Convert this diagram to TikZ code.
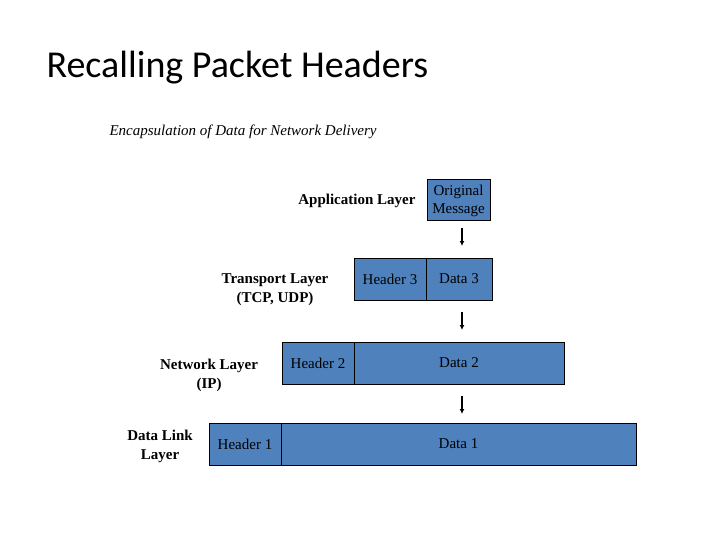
\documentclass[tikz,border=0pt]{standalone}
\usepackage{fontspec}
\setmainfont{Liberation Serif}
\newfontfamily\titlefont{Carlito}
\usetikzlibrary{arrows.meta, positioning}
\definecolor{pktblue}{RGB}{79, 129, 189}

\tikzset{
  cell/.style={draw=black, fill=pktblue, line width=1pt, inner sep=0pt, font=\fontsize{15}{17}\selectfont},
  layer/.style={align=center, font=\bfseries\fontsize{15}{19}\selectfont},
  down/.style={-{Latex[length=5pt,width=5pt]}, line width=1.2pt}
}

\begin{document}
\begin{tikzpicture}[x=1pt,y=-1pt]
        \useasboundingbox (0,0) rectangle (720,540);
        \node[anchor=west, font=\titlefont\fontsize{38}{40}\selectfont] (title) at (43,68) {Recalling Packet Headers};
        \node[anchor=west, font=\itshape\fontsize{15}{17}\selectfont] (sub) at (106,132) {Encapsulation of Data for Network Delivery};

        % application layer
        \node[cell, minimum width=63pt, minimum height=41pt, align=center, font=\fontsize{15}{18}\selectfont] (orig) at (458.5,200.5) {Original\\Message};
        \node[layer, anchor=east] (app) at (419,201) {Application Layer};

        % transport layer
        \node[cell, minimum width=72pt, minimum height=42pt] (h3) at (390,279) {Header 3};
        \node[cell, minimum width=66pt, minimum height=42pt] (d3) at (459,279) {Data 3};
        \node[layer] (tr) at (275,290) {Transport Layer\\(TCP, UDP)};

        % network layer
        \node[cell, minimum width=72pt, minimum height=42pt] (h2) at (318,363) {Header 2};
        \node[cell, minimum width=210pt, minimum height=42pt] (d2) at (459,363) {Data 2};
        \node[layer] (net) at (209,375) {Network Layer\\(IP)};

        % data link layer
        \node[cell, minimum width=72pt, minimum height=42pt] (h1) at (245,444) {Header 1};
        \node[cell, minimum width=355pt, minimum height=42pt] (d1) at (458.5,444) {Data 1};
        \node[layer] (dl) at (160,446) {Data Link\\Layer};

        \coordinate (a1) at (462,228);
        \coordinate (b1) at (462,246);
        \coordinate (a2) at (462,312);
        \coordinate (b2) at (462,330);
        \coordinate (a3) at (462,396);
        \coordinate (b3) at (462,414);
        \foreach \i in {1,2,3}
          \draw[down] (a\i) -- (b\i);
      \end{tikzpicture}
\end{document}
